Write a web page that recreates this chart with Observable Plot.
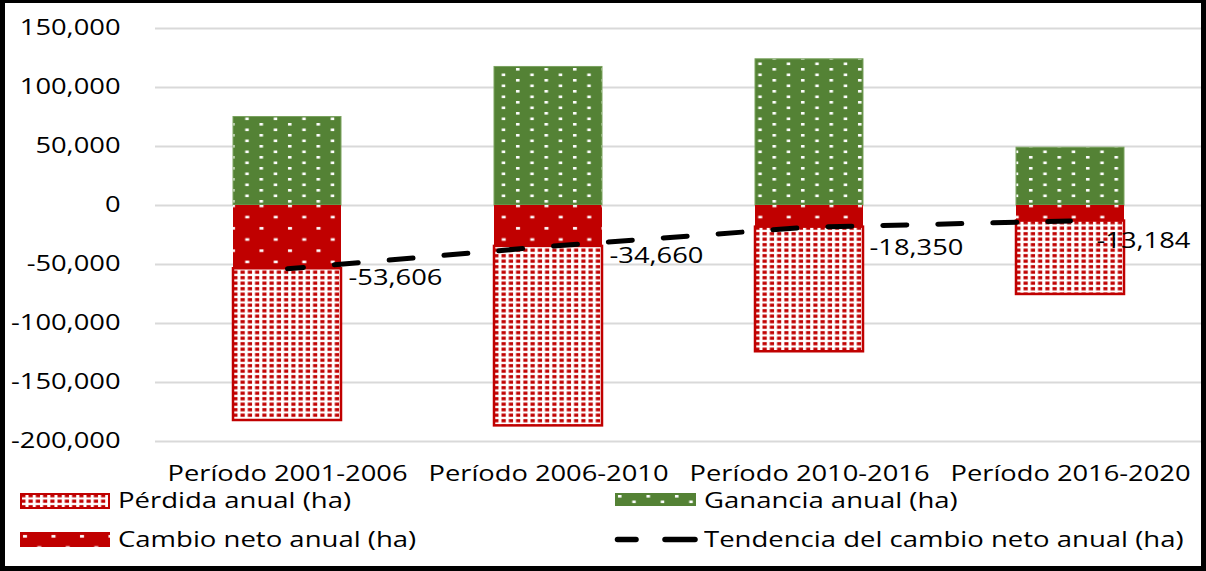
<!DOCTYPE html>
<html>
<head>
<meta charset="utf-8">
<script src="https://cdn.jsdelivr.net/npm/d3@7"></script>
<script src="https://cdn.jsdelivr.net/npm/@observablehq/plot@0.6"></script>
<style>
  html, body { margin: 0; padding: 0; background: #fff; }
  #chart { position: relative; width: 1206px; height: 571px; background: #fff; overflow: hidden; font-family: "Open Sans", sans-serif; }
  #chart > svg.plot { position: absolute; left: 0; top: 0; }
  #frame { position: absolute; left: 0; top: 0; width: 1206px; height: 571px; box-sizing: border-box;
           border-style: solid; border-color: #000; border-width: 3px 5px 5px 5px; pointer-events: none; }
  .sw { position: absolute; }
  .lt { position: absolute; font-size: 21px; line-height: 22px; color: #000; white-space: nowrap;
        transform: scaleX(1.31); transform-origin: 0 0; }
</style>
</head>
<body>
<svg width="0" height="0" style="position:absolute">
  <defs>
    <pattern id="pGain" patternUnits="userSpaceOnUse" width="28.5" height="11">
      <rect width="28.5" height="11" fill="#548235"/>
      <rect x="3" y="2" width="3.5" height="2.6" fill="#fff"/>
      <rect x="17.25" y="7.5" width="3.5" height="2.6" fill="#fff"/>
    </pattern>
    <pattern id="pNet" patternUnits="userSpaceOnUse" width="28.5" height="22.4">
      <rect width="28.5" height="22.4" fill="#C00000"/>
      <rect x="3" y="3" width="4" height="2.6" fill="#fff"/>
      <rect x="17.25" y="14.2" width="4" height="2.6" fill="#fff"/>
    </pattern>
    <pattern id="pLoss" patternUnits="userSpaceOnUse" width="7.25" height="5.5">
      <rect width="7.25" height="5.5" fill="#fff"/>
      <rect x="1.3" y="1.1" width="4.2" height="3.2" fill="#C00000"/>
    </pattern>
  </defs>
</svg>
<div id="chart"></div>
<script>
// ---- data ----
const categories = ["Período 2001-2006", "Período 2006-2010", "Período 2010-2016", "Período 2016-2020"];
const ganancia = [75000, 117400, 123900, 49000];       // Ganancia anual (ha)
const perdida = [128600, 152100, 105600, 62200];       // Pérdida anual (ha), stacked below the net change
const cambioNeto = [-53606, -34660, -18350, -13184];   // Cambio neto anual (ha)
const yTicks = [150000, 100000, 50000, 0, -50000, -100000, -150000, -200000];
const seriesNames = ["Pérdida anual (ha)", "Ganancia anual (ha)", "Cambio neto anual (ha)", "Tendencia del cambio neto anual (ha)"];

const rows = categories.map((c, i) => ({cat: c, gain: ganancia[i], loss: perdida[i], net: cambioNeto[i], i}));
const fmt = d => d3.format(",")(d).replace("\u2212", "-");

const RED = "#C00000";

const svg = Plot.plot({
  width: 1206,
  height: 481,
  marginLeft: 155,
  marginRight: 4,
  marginTop: 28,
  marginBottom: 40,
  style: {fontFamily: "Open Sans, sans-serif", fontSize: "21px", color: "#000", background: "transparent", overflow: "visible"},
  x: {domain: categories, paddingInner: 0.587, paddingOuter: 0.2935, label: null, tickSize: 0, tickPadding: 25},
  y: {domain: [-200000, 150000], ticks: yTicks, tickFormat: fmt, label: null, tickSize: 0, tickPadding: 35},
  marks: [
    Plot.gridY(yTicks, {stroke: "#d9d9d9", strokeOpacity: 1, strokeWidth: 2}),
    Plot.barY(rows, {x: "cat", y1: 0, y2: "gain", fill: "url(#pGain)", stroke: "#7aa35f", strokeWidth: 1}),
    Plot.barY(rows, {x: "cat", y1: 0, y2: "net", fill: "url(#pNet)"}),
    Plot.barY(rows, {x: "cat", y1: "net", y2: d => d.net - d.loss, fill: "url(#pLoss)", stroke: RED, strokeWidth: 2.5}),
    Plot.line(rows, {x: "cat", y: "net", stroke: "#000", strokeWidth: 5, strokeDasharray: "24,31", strokeDashoffset: 8, strokeLinecap: "round"}),
    Plot.text(rows.filter(d => d.i < 2), {x: "cat", y: "net", text: d => fmt(d.net), textAnchor: "start", dx: 61, dy: 10, fill: "#000"}),
    Plot.text(rows.filter(d => d.i === 2), {x: "cat", y: "net", text: d => fmt(d.net), textAnchor: "start", dx: 60, dy: 21, fill: "#000"}),
    Plot.text(rows.filter(d => d.i === 3), {x: "cat", y: "net", text: d => fmt(d.net), textAnchor: "start", dx: 26, dy: 20, fill: "#000"})
  ]
});
svg.classList.add("plot");

// stretch all text horizontally (the reference text is wide)
svg.querySelectorAll("text").forEach(t => {
  let tr = t.getAttribute("transform");
  if (!tr) {
    const x = t.getAttribute("x") || 0, y = t.getAttribute("y") || 0;
    t.removeAttribute("x"); t.removeAttribute("y");
    tr = `translate(${x},${y})`;
  }
  t.setAttribute("transform", tr + " scale(1.3,1)");
});

const chart = document.getElementById("chart");
chart.appendChild(svg);

// ---- legend ----
function swatch(left, top, w, h, inner) {
  const s = document.createElementNS("http://www.w3.org/2000/svg", "svg");
  s.setAttribute("width", w); s.setAttribute("height", h);
  s.setAttribute("class", "sw");
  s.style.left = left + "px"; s.style.top = top + "px";
  s.innerHTML = inner;
  chart.appendChild(s);
}
function label(left, top, txt) {
  const d = document.createElement("div");
  d.className = "lt";
  d.style.left = left + "px"; d.style.top = top + "px";
  d.textContent = txt;
  chart.appendChild(d);
}
swatch(20, 493, 90, 16, `<rect x="1" y="1" width="88" height="14" fill="url(#pLoss)" stroke="${RED}" stroke-width="2"/>`);
label(118, 489, seriesNames[0]);
swatch(615, 493, 81, 13, `<rect width="81" height="13" fill="url(#pGain)"/>`);
label(704, 489, seriesNames[1]);
swatch(20, 532, 90, 15, `<rect width="90" height="15" fill="url(#pNet)"/>`);
label(118, 528, seriesNames[2]);
swatch(612, 532, 90, 15, `<line x1="5.5" y1="7.5" x2="24" y2="7.5" stroke="#000" stroke-width="5.5" stroke-linecap="round"/><line x1="53" y1="7.5" x2="83" y2="7.5" stroke="#000" stroke-width="5.5" stroke-linecap="round"/>`);
label(704, 528, seriesNames[3]);

const frame = document.createElement("div");
frame.id = "frame";
chart.appendChild(frame);
</script>
</body>
</html>
